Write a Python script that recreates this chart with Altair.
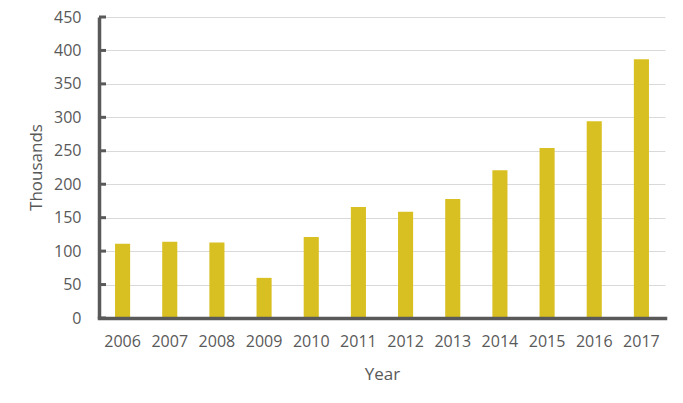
import altair as alt
import pandas as pd

years = ["2006", "2007", "2008", "2009", "2010", "2011", "2012", "2013", "2014", "2015", "2016", "2017"]
values = [111, 114, 113, 60, 121, 166, 159, 178, 221, 254, 294, 387]
y_ticks = [0, 50, 100, 150, 200, 250, 300, 350, 400, 450]

df = pd.DataFrame({"Year": years, "Thousands": values})
tick_df = pd.DataFrame({"Thousands": y_ticks})

FONT = "Open Sans"
GREY = "#595959"

y_scale = alt.Scale(domain=[0, 450], nice=False, zero=True)
y_axis = alt.Axis(
    title="Thousands",
    values=y_ticks,
    tickCount=10,
    grid=True,
    gridColor="#D9D9D9",
    gridWidth=1,
    ticks=False,
    labelPadding=18,
    labelOverlap=False,
    labelFlush=False,
    domainColor=GREY,
    domainWidth=3.5,
    titleAngle=-90,
    titleX=-63,
    titleY=150,
    titleAlign="center",
    titleBaseline="middle",
    zindex=0,
)

bars = alt.Chart(df).mark_bar(color="#D9C022").encode(
    x=alt.X(
        "Year:N",
        sort=years,
        scale=alt.Scale(paddingInner=0.68, paddingOuter=0.34),
        axis=alt.Axis(
            title="Year",
            labelAngle=0,
            ticks=False,
            labelPadding=15,
            labelOverlap=False,
            domainColor=GREY,
            domainWidth=3.5,
            domainCap="square",
            titleY=56,
            titleBaseline="middle",
            zindex=1,
        ),
    ),
    y=alt.Y("Thousands:Q", scale=y_scale, axis=y_axis),
)

ticks = alt.Chart(tick_df).mark_rule(color=GREY, strokeWidth=3).encode(
    y=alt.Y("Thousands:Q", scale=y_scale, axis=y_axis),
    x=alt.value(0),
    x2=alt.value(7),
)

chart = (
    alt.layer(bars, ticks)
    .properties(
        width=566,
        height=301,
        autosize=alt.AutoSizeParams(type="none"),
        padding={"left": 99, "top": 17, "right": 18, "bottom": 85},
    )
    .configure_view(stroke=None)
    .configure_axis(
        labelFont=FONT,
        titleFont=FONT,
        labelFontSize=16,
        titleFontSize=17,
        labelColor=GREY,
        titleColor=GREY,
        titleFontWeight="normal",
    )
)

chart.save("out.html", embed_options={"renderer": "svg", "actions": False})
